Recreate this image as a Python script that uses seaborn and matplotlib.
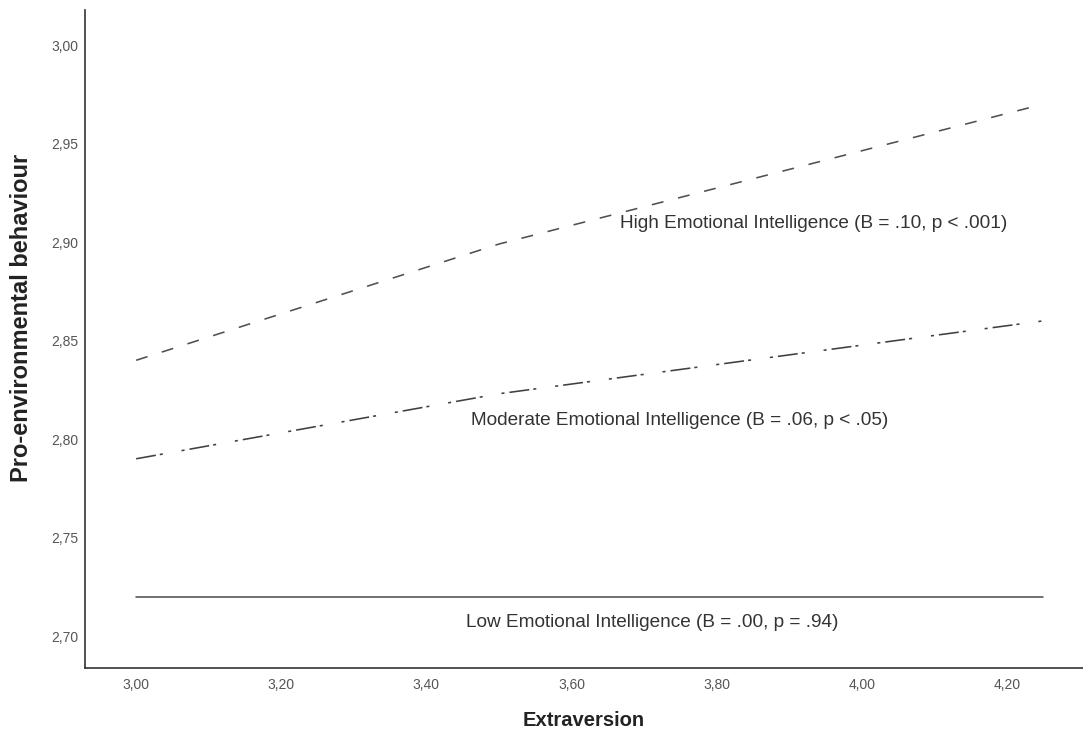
import numpy as np
import pandas as pd
import matplotlib
matplotlib.use('Agg')
import matplotlib.pyplot as plt
import seaborn as sns

# 数据：简单斜率（调节效应）
extraversion = [3.00, 3.50, 4.25]
high_ei = [2.840, 2.899, 2.970]
moderate_ei = [2.790, 2.823, 2.860]
low_ei = [2.720, 2.720, 2.720]

labels = ['High Emotional Intelligence (B = .10, p < .001)',
          'Moderate Emotional Intelligence (B = .06, p < .05)',
          'Low Emotional Intelligence (B = .00, p = .94)']
label_pos = [(3.667, 2.9096), (3.462, 2.8096), (3.455, 2.707)]

x_ticks = [3.00, 3.20, 3.40, 3.60, 3.80, 4.00, 4.20]
y_ticks = [2.70, 2.75, 2.80, 2.85, 2.90, 2.95, 3.00]

sns.set_theme(style='white')
plt.rcParams['font.family'] = ['Liberation Sans', 'DejaVu Sans']
plt.rcParams['lines.scale_dashes'] = False

fig = plt.figure(figsize=(10.83, 7.31), dpi=100)
ax = fig.add_axes([85 / 1083, 63 / 731, 998 / 1083, 658 / 731])

df = pd.DataFrame({'x': extraversion * 3,
                   'y': high_ei + moderate_ei + low_ei,
                   'group': ['high'] * 3 + ['moderate'] * 3 + ['low'] * 3})

line_colors = {'high': '#505050', 'moderate': '#404040', 'low': '#505050'}
dash_patterns = {'high': (0, (8.6, 10.8)),
                 'moderate': (0, (14.4, 2.9, 2.2, 13.7, 2.2, 3.6)),
                 'low': None}

for g in ['high', 'moderate', 'low']:
    sub = df[df['group'] == g]
    sns.lineplot(data=sub, x='x', y='y', ax=ax, color=line_colors[g],
                 linewidth=1.15, errorbar=None)
    if dash_patterns[g] is not None:
        ax.lines[-1].set_linestyle(dash_patterns[g])

for txt, (tx, ty) in zip(labels, label_pos):
    ax.text(tx, ty, txt, ha='left', va='center', fontsize=13.7, color='#333333')

ax.set_xlim(2.9295, 4.305)
ax.set_ylim(2.6838, 3.0178)
ax.set_xticks(x_ticks)
ax.set_yticks(y_ticks)
ax.set_xticklabels([f'{v:.2f}'.replace('.', ',') for v in x_ticks])
ax.set_yticklabels([f'{v:.2f}'.replace('.', ',') for v in y_ticks])
ax.tick_params(axis='both', length=0, labelsize=10, labelcolor='#555555')
ax.tick_params(axis='x', pad=7)
ax.tick_params(axis='y', pad=5)

ax.set_xlabel('Extraversion', fontsize=14.5, fontweight='bold', color='#222222', labelpad=14)
ax.set_ylabel('Pro-environmental behaviour', fontsize=17, fontweight='bold', color='#222222')
ax.yaxis.set_label_coords(-0.052, 0.532)

for side in ['top', 'right']:
    ax.spines[side].set_visible(False)
for side in ['left', 'bottom']:
    ax.spines[side].set_color('#333333')
    ax.spines[side].set_linewidth(1.2)

ax.grid(False)
fig.savefig('out.png', dpi=100)
